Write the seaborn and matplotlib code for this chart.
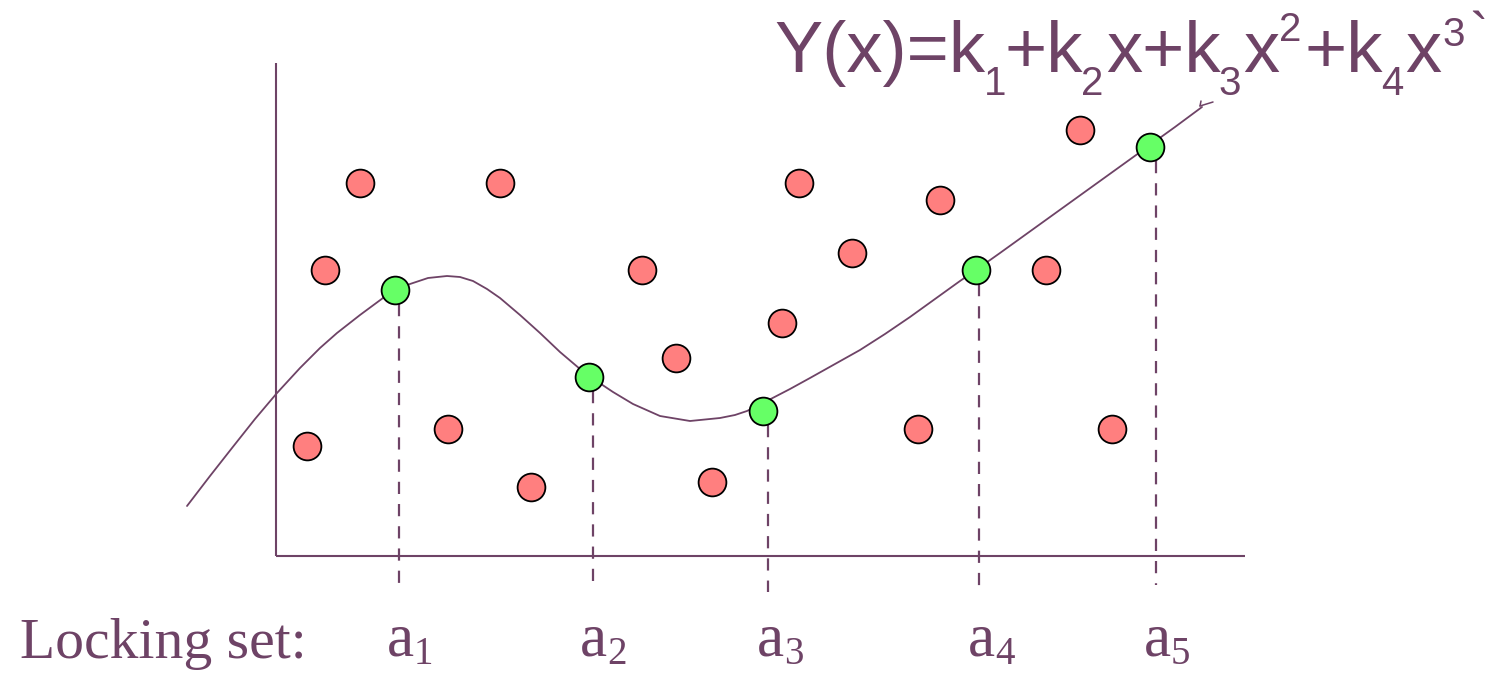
import numpy as np
import pandas as pd
import matplotlib
matplotlib.use('Agg')
import matplotlib.pyplot as plt
import seaborn as sns

# Pontos (coordenadas em pixels, y para baixo)
outlier_x = [325, 360, 500, 307, 448, 531, 642, 676, 712, 782, 799, 852, 940, 918, 1046, 1080, 1112]
outlier_y = [270, 183, 183, 446, 429, 487, 270, 358, 482, 323, 183, 253, 200, 429, 270, 130, 429]

lock_x = [395, 589, 763, 976, 1150]
lock_y = [290, 377, 411, 270, 147]
lock_nums = ['1', '2', '3', '4', '5']
dash_x = [399, 593, 768, 979, 1156]
dash_end = [590, 588, 592, 586, 585]
label_x = [387, 580, 757, 968, 1144]

curve_x = [187, 210, 232, 255, 277, 300, 320, 337, 360, 383, 395, 410, 428,
           447, 460, 473, 487, 500, 520, 540, 560, 580, 589, 613, 633, 660,
           690, 720, 735, 747, 763, 790, 810, 835, 860, 885, 910, 935, 960,
           976, 1000, 1025, 1050, 1075, 1100, 1125, 1150, 1175, 1202]
curve_y = [506, 476, 448, 419, 393, 368, 348, 333, 315, 298, 290, 284, 278,
           276, 277, 281, 289, 298, 315, 333, 352, 369, 376, 392, 404, 416,
           421, 418, 415, 411, 403, 389, 378, 364, 350, 334, 317, 299, 281,
           270, 253, 235, 217, 199, 181, 163, 145, 127, 107]

# fórmula em pedaços
formula_parts = ['Y(x)=k', '1', '+k', '2', 'x+k', '3', 'x', '2', '+k', '4', 'x', '3', '`']
formula_x = [774, 984, 1004, 1081, 1106, 1218, 1243, 1279, 1304, 1381, 1405, 1442, 1469]
formula_tipo = ['n', 's', 'n', 's', 'n', 's', 'n', 'p', 'n', 's', 'n', 'p3', 'g']

roxo = '#6e4366'

sns.set_theme(style='white')

fig = plt.figure(figsize=(14.97, 6.73), dpi=100)
ax = fig.add_axes([0, 0, 1, 1])

# eixos desenhados à mão
ax.plot([276, 276], [63, 556], color=roxo, lw=1.5, solid_capstyle='butt')
ax.plot([276, 1245], [556, 556], color=roxo, lw=1.5, solid_capstyle='butt')

# curva ajustada
df_curva = pd.DataFrame({'x': curve_x, 'y': curve_y})
sns.lineplot(data=df_curva, x='x', y='y', sort=False, estimator=None,
             color=roxo, lw=1.3, ax=ax)
ax.plot([1200, 1213], [106, 102], color=roxo, lw=1.1)
ax.plot([1200, 1201], [106, 101], color=roxo, lw=1.1)

# linhas tracejadas do conjunto de travamento
for xd, yd, ye in zip(dash_x, lock_y, dash_end):
    ax.plot([xd, xd], [yd + 14, ye], color=roxo, lw=1.6,
            dashes=(5.5, 4.5))

df_out = pd.DataFrame({'x': outlier_x, 'y': outlier_y})
sns.scatterplot(data=df_out, x='x', y='y', s=400, color='#ff7f7f',
                edgecolor='black', linewidth=1.3, ax=ax, zorder=5)
df_lock = pd.DataFrame({'x': lock_x, 'y': lock_y})
sns.scatterplot(data=df_lock, x='x', y='y', s=400, color='#66ff66',
                edgecolor='black', linewidth=1.3, ax=ax, zorder=6)

ax.set_xlim(0, 1497)
ax.set_ylim(673, 0)
ax.axis('off')

# índices maiores que os do mathtext
estilo = {'n': (52, 72), 's': (29, 95), 'p': (29, 41), 'p3': (29, 46), 'g': (40, 52)}
for txt, xp, tp in zip(formula_parts, formula_x, formula_tipo):
    fs, yb = estilo[tp]
    ax.text(xp, yb, txt, family='Liberation Sans', fontsize=fs, color=roxo,
            ha='left', va='baseline')

ax.text(20, 658, 'Locking set:', family='Liberation Serif', fontsize=41.5,
        color=roxo, ha='left', va='baseline')
for xl, num in zip(label_x, lock_nums):
    ax.text(xl, 655, 'a', family='Liberation Serif', fontsize=44,
            color=roxo, ha='left', va='baseline')
    ax.text(xl + 27, 664, num, family='Liberation Serif', fontsize=28,
            color=roxo, ha='left', va='baseline')

plt.savefig('out.png', dpi=100)
